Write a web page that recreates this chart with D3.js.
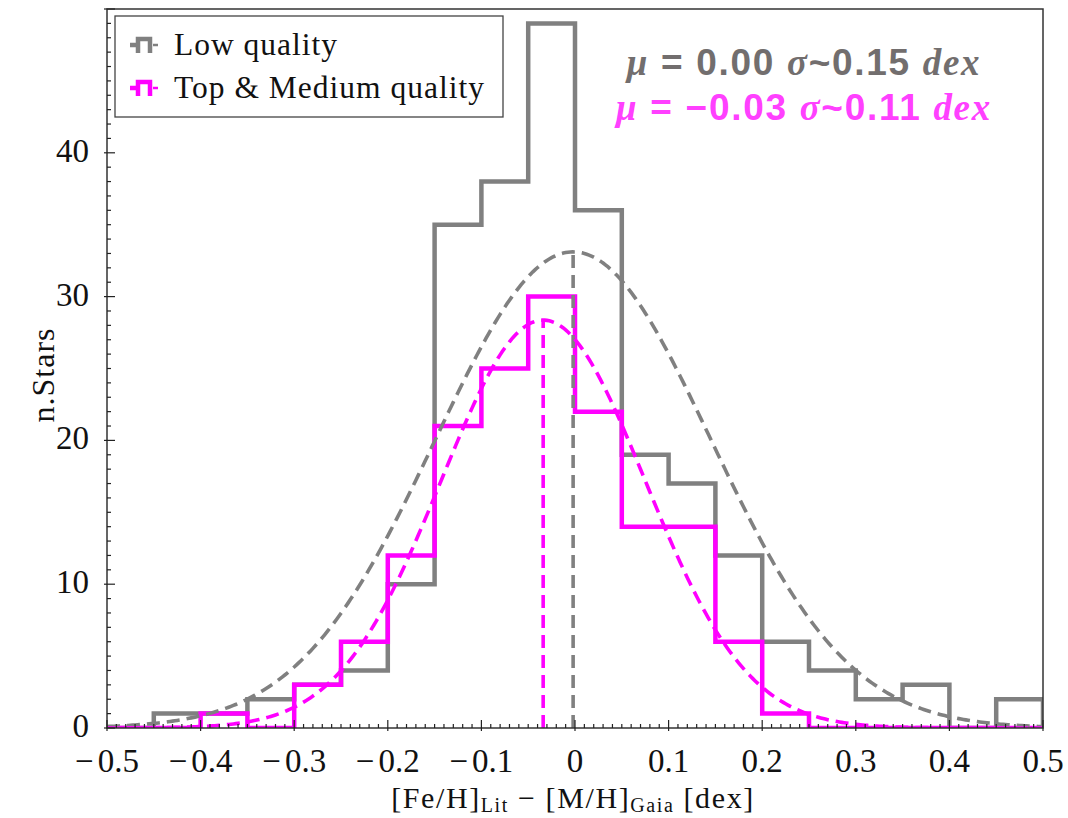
<!DOCTYPE html>
<html>
<head>
<meta charset="utf-8">
<script src="https://cdn.jsdelivr.net/npm/d3@7"></script>
<style>
  html, body { margin: 0; padding: 0; background: #fff; }
  svg { display: block; }
</style>
</head>
<body>
<svg id="chart" width="1068" height="818"></svg>
<script>
// Bin edges of the metallicity-difference histogram (width 0.05 dex)
const binEdges = [-0.5, -0.45, -0.4, -0.35, -0.3, -0.25, -0.2, -0.15, -0.1, -0.05, 0,
                  0.05, 0.1, 0.15, 0.2, 0.25, 0.3, 0.35, 0.4, 0.45, 0.5];
// Star counts per bin
const lowQuality    = [0, 1, 1, 2, 3, 4, 10, 35, 38, 49, 36, 19, 17, 12, 6, 4, 2, 3, 0, 2];
const topMedQuality = [0, 0, 1, 0, 3, 6, 12, 21, 25, 30, 22, 14, 14, 6, 1, 0, 0, 0, 0, 0];
// Gaussian fit parameters
const lowFit    = { mu: -0.002, sigma: 0.147 };
const topMedFit = { mu: -0.034, sigma: 0.109 };
// Axis ticks
const xTicks = [-0.5, -0.4, -0.3, -0.2, -0.1, 0, 0.1, 0.2, 0.3, 0.4, 0.5];
const yTicks = [0, 10, 20, 30, 40];
const seriesNames = ["Low quality", "Top & Medium quality"];

const GRAY = "#808080";
const PINK = "#ff00ff";
const SERIF = "'Liberation Serif', 'DejaVu Serif', serif";

const svg = d3.select("#chart");
const L = 107, T = 9, R = 1043, B = 728;

const x = d3.scaleLinear().domain([-0.5, 0.5]).range([L, R]);
const y = d3.scaleLinear().domain([0, 50]).range([B, T]);

const plot = svg.append("g");
plot.append("defs").append("clipPath").attr("id", "clip")
  .append("rect").attr("x", L).attr("y", T).attr("width", R - L).attr("height", B - T);

// Step outline of a histogram, as matplotlib's histtype='step'
function stepPoints(counts) {
  const pts = [[binEdges[0], 0]];
  counts.forEach((c, i) => {
    pts.push([binEdges[i], c]);
    pts.push([binEdges[i + 1], c]);
  });
  pts.push([binEdges[binEdges.length - 1], 0]);
  return pts;
}
const line = d3.line().x(d => x(d[0])).y(d => y(d[1]));

const layer = plot.append("g").attr("clip-path", "url(#clip)");

layer.append("path")
  .attr("d", line(stepPoints(lowQuality)))
  .attr("fill", "none").attr("stroke", GRAY).attr("stroke-width", 4.5)
  .attr("stroke-linejoin", "miter");
layer.append("path")
  .attr("d", line(stepPoints(topMedQuality)))
  .attr("fill", "none").attr("stroke", PINK).attr("stroke-width", 4.5)
  .attr("stroke-linejoin", "miter");

// Gaussian curves scaled to the histogram area
function gaussPath(counts, fit) {
  const n = d3.sum(counts);
  const bw = binEdges[1] - binEdges[0];
  const amp = n * bw / (fit.sigma * Math.sqrt(2 * Math.PI));
  const xs = d3.range(0, 401).map(i => -0.5 + i / 400);
  return { amp, pts: xs.map(v => [v, amp * Math.exp(-((v - fit.mu) ** 2) / (2 * fit.sigma ** 2))]) };
}
[[lowQuality, lowFit, GRAY], [topMedQuality, topMedFit, PINK]].forEach(([counts, fit, col]) => {
  const g = gaussPath(counts, fit);
  layer.append("path")
    .attr("d", line(g.pts))
    .attr("fill", "none").attr("stroke", col).attr("stroke-width", 3.6)
    .attr("stroke-dasharray", "13,7");
  layer.append("line")
    .attr("x1", x(fit.mu)).attr("x2", x(fit.mu))
    .attr("y1", y(0)).attr("y2", y(g.amp))
    .attr("stroke", col).attr("stroke-width", 3.6)
    .attr("stroke-dasharray", "13,7");
});

// Frame
plot.append("rect").attr("x", L).attr("y", T).attr("width", R - L).attr("height", B - T)
  .attr("fill", "none").attr("stroke", "#333").attr("stroke-width", 1.5);

// Ticks (inward)
const tickG = plot.append("g").attr("stroke", "#222").attr("stroke-width", 1.2);
d3.range(-50, 51).forEach(i => {
  const v = i / 100;
  const major = i % 10 === 0;
  tickG.append("line").attr("x1", x(v)).attr("x2", x(v))
    .attr("y1", B + (major ? 3 : 0)).attr("y2", B - (major ? 8 : 4));
});
d3.range(0, 51).forEach(v => {
  const major = v % 10 === 0;
  tickG.append("line").attr("x1", L - (major ? 3 : 0)).attr("x2", L + (major ? 8 : 4))
    .attr("y1", y(v)).attr("y2", y(v));
});

const fmtX = v => (v === 0 ? "0" : (v < 0 ? "\u2212" : "") + Math.abs(v).toFixed(1));
const xt = plot.append("g").selectAll("text").data(xTicks).join("text")
  .attr("x", d => x(d)).attr("y", 772)
  .attr("text-anchor", "middle")
  .attr("font-family", SERIF).attr("font-size", 33).attr("fill", "#111");
xt.each(function(d) {
  const s = fmtX(d);
  const t = d3.select(this);
  if (s[0] === "\u2212") {
    t.append("tspan").text("\u2212");
    t.append("tspan").attr("dx", 4).text(s.slice(1));
  } else {
    t.text(s);
  }
});
plot.append("g").selectAll("text").data(yTicks).join("text")
  .attr("x", 89).attr("y", d => y(d) + 9)
  .attr("text-anchor", "end")
  .attr("font-family", SERIF).attr("font-size", 33).attr("fill", "#111")
  .text(d => d);

// Axis titles
const xl = svg.append("text").attr("x", 573).attr("y", 808).attr("text-anchor", "middle")
  .attr("font-family", SERIF).attr("font-size", 30).attr("letter-spacing", 1.6).attr("fill", "#111");
xl.append("tspan").text("[Fe/H]");
xl.append("tspan").attr("font-size", 20).attr("dy", 4).text("Lit");
xl.append("tspan").attr("dy", -4).text(" \u2212 [M/H]");
xl.append("tspan").attr("font-size", 20).attr("dy", 4).text("Gaia");
xl.append("tspan").attr("dy", -4).text(" [dex]");

svg.append("text")
  .attr("transform", "translate(54,375) rotate(-90)")
  .attr("text-anchor", "middle")
  .attr("font-family", SERIF).attr("font-size", 32).attr("letter-spacing", 1).attr("fill", "#111")
  .text("n.Stars");

// Legend
const lg = svg.append("g");
lg.append("rect").attr("x", 115).attr("y", 16).attr("width", 388).attr("height", 101)
  .attr("fill", "#fff").attr("stroke", "#444").attr("stroke-width", 1.3);
[GRAY, PINK].forEach((col, i) => {
  const cy = 45 + i * 43;
  const g = lg.append("g").attr("stroke", col).attr("fill", "none");
  g.append("path").attr("d", `M130,${cy} H138 M138,${cy + 8} V${cy - 6} H150 V${cy + 8}`)
    .attr("stroke-width", 4.5);
  g.append("line").attr("x1", 153).attr("x2", 158).attr("y1", cy).attr("y2", cy)
    .attr("stroke-width", 2.5);
  lg.append("text").attr("x", 174).attr("y", cy + 10)
    .attr("font-family", SERIF).attr("font-size", 31.5).attr("letter-spacing", 1).attr("fill", "#111")
    .text(seriesNames[i]);
});

// Fit annotations
const ann = [
  { fit: "0.00", sig: "0.15", col: "#726e6e", yy: 75 },
  { fit: "\u22120.03", sig: "0.11", col: "#ff40ff", yy: 120 }
];
const MATH_IT = "'Liberation Serif', serif";
ann.forEach(a => {
  const t = svg.append("text").attr("x", 804).attr("y", a.yy).attr("text-anchor", "middle")
    .attr("font-family", "'Liberation Sans', Arimo, sans-serif").attr("font-size", 37)
    .attr("font-weight", "bold").attr("letter-spacing", 1.7).attr("fill", a.col);
  t.append("tspan").attr("font-style", "italic").attr("font-family", MATH_IT).text("\u03bc");
  t.append("tspan").text(" = " + a.fit + " ");
  t.append("tspan").attr("font-style", "italic").attr("font-family", MATH_IT).text("\u03c3");
  t.append("tspan").text("~" + a.sig + " ");
  t.append("tspan").attr("font-style", "italic").attr("font-family", MATH_IT).text("dex");
});
</script>
</body>
</html>
